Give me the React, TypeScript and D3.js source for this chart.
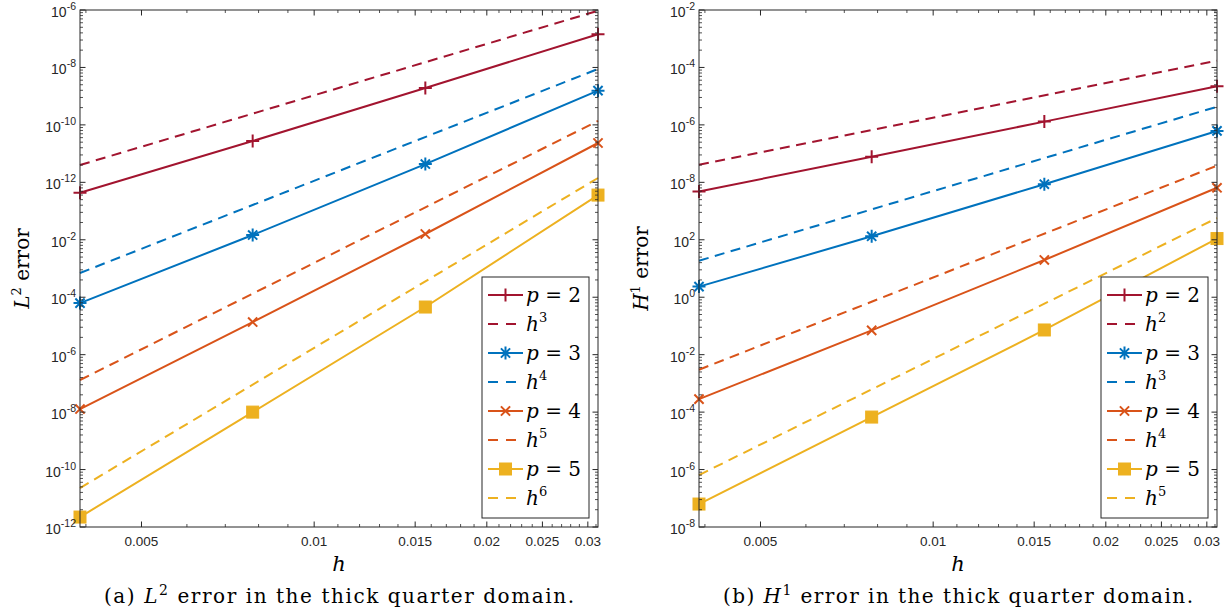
import React from 'react';
import * as d3 from 'd3';

// ---------- data ----------
const hValues = [1 / 256, 1 / 128, 1 / 64, 1 / 32];
const refH = [1 / 256, 1 / 32];

// (a) L2 error
const l2P2 = [6.6e-10, 5.24e-9, 4.39e-8, 3.78e-7];
const l2H3 = [2.0e-9, 9.7e-7];
const l2P3 = [7.9e-12, 1.21e-10, 2.08e-9, 3.94e-8];
const l2H4 = [2.64e-11, 9.4e-8];
const l2P4 = [1.13e-13, 3.7e-12, 1.26e-10, 4.84e-9];
const l2H5 = [3.62e-13, 1.17e-8];
const l2P5 = [1.49e-15, 1.0e-13, 6.75e-12, 6.0e-10];
const l2H6 = [4.77e-15, 1.19e-9];

// (b) H1 error
const h1P2 = [6.92e-6, 2.79e-5, 1.14e-4, 4.71e-4];
const h1H2 = [2.03e-5, 1.31e-3];
const h1P3 = [1.53e-7, 1.15e-6, 9.27e-6, 7.85e-5];
const h1H3 = [4.32e-7, 2.07e-4];
const h1P4 = [1.68e-9, 2.65e-8, 4.45e-7, 8.04e-6];
const h1H4 = [5.47e-9, 1.95e-5];
const h1P5 = [2.51e-11, 8.2e-10, 2.69e-8, 1.05e-6];
const h1H5 = [8.02e-11, 2.39e-6];

const l2YDomain: [number, number] = [1e-15, 1e-6];
const h1YDomain: [number, number] = [1e-11, 1e-2];
// tick labels as printed (top to bottom)
const l2TickExps = ['-6', '-8', '-10', '-12', '-2', '-4', '-6', '-8', '-10', '-12'];
const h1TickExps = ['-2', '-4', '-6', '-8', '2', '0', '-2', '-4', '-6', '-8'];

const xDomain: [number, number] = [1 / 256, 1 / 32];
const xTickValues = [0.005, 0.01, 0.015, 0.02, 0.025, 0.03];
const xTickLabels = ['0.005', '0.01', '0.015', '0.02', '0.025', '0.03'];

const seriesColors = ['#A2142F', '#0072BD', '#D95319', '#EDB120'];
const markerKinds = ['plus', 'star', 'cross', 'square'];
const pLabels = ['2', '3', '4', '5'];
const l2RefExps = ['3', '4', '5', '6'];
const h1RefExps = ['2', '3', '4', '5'];

// ---------- layout ----------
const W = 1231;
const H = 611;
const plotTop = 10;
const plotBottom = 527;
const plotWidth = 518;
const AX = '#262626';
const SERIF = 'DejaVu Serif, serif';
const SANS = 'Liberation Sans, Arial, sans-serif';

function Marker({ kind, x, y, color }: { kind: string; x: number; y: number; color: string }) {
  if (kind === 'square') {
    return <rect x={x - 6} y={y - 6} width={12} height={12} fill={color} stroke={color} strokeWidth={1} />;
  }
  let d = '';
  const a = 6.5;
  const b = 4.6;
  if (kind === 'plus') d = `M${x - a},${y}H${x + a}M${x},${y - a}V${y + a}`;
  if (kind === 'cross') d = `M${x - b},${y - b}L${x + b},${y + b}M${x - b},${y + b}L${x + b},${y - b}`;
  if (kind === 'star')
    d = `M${x - a},${y}H${x + a}M${x},${y - a}V${y + a}M${x - b},${y - b}L${x + b},${y + b}M${x - b},${y + b}L${x + b},${y - b}`;
  return <path d={d} stroke={color} strokeWidth={2} fill="none" />;
}

type PanelProps = {
  left: number;
  yDomain: [number, number];
  tickExps: string[];
  solids: number[][];
  refs: number[][];
  refExps: string[];
  yLetter: string;
  ySup: string;
  captionTag: string;
};

function Panel({ left, yDomain, tickExps, solids, refs, refExps, yLetter, ySup, captionTag }: PanelProps) {
  const right = left + plotWidth;
  const x = d3.scaleLog().domain(xDomain).range([left, right]);
  const y = d3.scaleLog().domain(yDomain).range([plotBottom, plotTop]);
  const line = d3
    .line<[number, number]>()
    .x((d) => x(d[0]))
    .y((d) => y(d[1]));

  const lo = Math.round(Math.log10(yDomain[0]));
  const hi = Math.round(Math.log10(yDomain[1]));
  const majorY = d3.range(hi, lo - 1, -1).map((e) => Math.pow(10, e));
  const minorY: number[] = [];
  for (let e = lo; e < hi; e++) for (let m = 2; m <= 9; m++) minorY.push(m * Math.pow(10, e));
  const minorX = d3
    .range(4, 32)
    .map((i) => i / 1000)
    .filter((v) => !xTickValues.some((t) => Math.abs(t - v) < 1e-9));

  const majLen = 5.5;
  const minLen = 3;
  const cx = (left + right) / 2;

  const legLeft = right - 116;
  const legTop = plotBottom - 250;
  const legRowY = (i: number) => legTop + 18 + i * 29;

  return (
    <g>
      {/* series */}
      {refs.map((r, i) => (
        <path
          key={'r' + i}
          d={line(refH.map((h, j) => [h, r[j]] as [number, number])) || ''}
          stroke={seriesColors[i]}
          strokeWidth={2}
          strokeDasharray="10,6.5"
          fill="none"
        />
      ))}
      {solids.map((s, i) => (
        <g key={'s' + i}>
          <path
            d={line(hValues.map((h, j) => [h, s[j]] as [number, number])) || ''}
            stroke={seriesColors[i]}
            strokeWidth={2}
            fill="none"
          />
          {hValues.map((h, j) => (
            <Marker key={j} kind={markerKinds[i]} x={x(h)} y={y(s[j])} color={seriesColors[i]} />
          ))}
        </g>
      ))}

      {/* axes box */}
      <rect x={left} y={plotTop} width={plotWidth} height={plotBottom - plotTop} fill="none" stroke={AX} strokeWidth={1} />
      {xTickValues.map((v) => (
        <g key={'xt' + v}>
          <line x1={x(v)} x2={x(v)} y1={plotBottom} y2={plotBottom - majLen} stroke={AX} />
          <line x1={x(v)} x2={x(v)} y1={plotTop} y2={plotTop + majLen} stroke={AX} />
        </g>
      ))}
      {minorX.map((v) => (
        <g key={'xm' + v}>
          <line x1={x(v)} x2={x(v)} y1={plotBottom} y2={plotBottom - minLen} stroke={AX} strokeWidth={0.8} />
          <line x1={x(v)} x2={x(v)} y1={plotTop} y2={plotTop + minLen} stroke={AX} strokeWidth={0.8} />
        </g>
      ))}
      {majorY.map((v) => (
        <g key={'yt' + v}>
          <line x1={left} x2={left + majLen} y1={y(v)} y2={y(v)} stroke={AX} />
          <line x1={right} x2={right - majLen} y1={y(v)} y2={y(v)} stroke={AX} />
        </g>
      ))}
      {minorY.map((v) => (
        <g key={'ym' + v}>
          <line x1={left} x2={left + minLen} y1={y(v)} y2={y(v)} stroke={AX} strokeWidth={0.8} />
          <line x1={right} x2={right - minLen} y1={y(v)} y2={y(v)} stroke={AX} strokeWidth={0.8} />
        </g>
      ))}

      {/* tick labels */}
      {xTickValues.map((v, i) => (
        <text key={'xl' + v} x={x(v)} y={plotBottom + 19} textAnchor="middle" fontFamily={SANS} fontSize={13.5} fill={AX}>
          {xTickLabels[i]}
        </text>
      ))}
      {majorY.map((v, i) => (
        <text key={'yl' + v} x={left - 4} y={y(v) + 7} textAnchor="end" fontFamily={SANS} fontSize={14} fill={AX}>
          10
          <tspan fontSize={10.5} dy={-7}>
            {tickExps[i]}
          </tspan>
        </text>
      ))}

      {/* axis titles */}
      <text x={cx} y={plotBottom + 44} textAnchor="middle" fontFamily={SERIF} fontStyle="italic" fontSize={21} fill="#000">
        h
      </text>
      <text
        transform={`translate(${left - 51},${(plotTop + plotBottom) / 2}) rotate(-90)`}
        textAnchor="middle"
        fontFamily={SERIF}
        fontSize={20}
        fill="#000"
      >
        <tspan fontStyle="italic">{yLetter}</tspan>
        <tspan fontSize={13} dy={-8}>
          {ySup}
        </tspan>
        <tspan dy={8}> error</tspan>
      </text>

      {/* caption */}
      <text
        x={cx}
        y={603}
        textAnchor="middle"
        fontFamily={SERIF}
        fontSize={20}
        fill="#000"
        textLength={470}
        lengthAdjust="spacing"
      >
        {`(${captionTag}) `}
        <tspan fontStyle="italic">{yLetter}</tspan>
        <tspan fontSize={14} dy={-8}>
          {ySup}
        </tspan>
        <tspan dy={8}> error in the thick quarter domain.</tspan>
      </text>

      {/* legend */}
      <rect x={legLeft} y={legTop} width={107} height={241} fill="#fff" stroke={AX} strokeWidth={1} />
      {pLabels.map((p, i) => {
        const ys = legRowY(2 * i);
        const yd = legRowY(2 * i + 1);
        const x0 = legLeft + 6;
        const x1 = legLeft + 41;
        return (
          <g key={'lg' + i}>
            <line x1={x0} x2={x1} y1={ys} y2={ys} stroke={seriesColors[i]} strokeWidth={2} />
            <Marker kind={markerKinds[i]} x={(x0 + x1) / 2} y={ys} color={seriesColors[i]} />
            <text x={x1 + 3} y={ys + 7} fontFamily={SERIF} fontSize={20} fill="#000">
              <tspan fontStyle="italic">p</tspan> = {p}
            </text>
            <line x1={x0} x2={x1} y1={yd} y2={yd} stroke={seriesColors[i]} strokeWidth={2} strokeDasharray="10,8" />
            <text x={x1 + 3} y={yd + 7} fontFamily={SERIF} fontSize={20} fill="#000">
              <tspan fontStyle="italic">h</tspan>
              <tspan fontSize={13} dy={-9}>
                {refExps[i]}
              </tspan>
            </text>
          </g>
        );
      })}
    </g>
  );
}

export default function App() {
  return (
    <svg
      width={W}
      height={H}
      viewBox={`0 0 ${W} ${H}`}
      style={{ position: 'absolute', left: 0, top: 0, background: '#fff' }}
    >
      <rect width={W} height={H} fill="#fff" />
      <Panel
        left={80}
        yDomain={l2YDomain}
        tickExps={l2TickExps}
        solids={[l2P2, l2P3, l2P4, l2P5]}
        refs={[l2H3, l2H4, l2H5, l2H6]}
        refExps={l2RefExps}
        yLetter="L"
        ySup="2"
        captionTag="a"
      />
      <Panel
        left={699}
        yDomain={h1YDomain}
        tickExps={h1TickExps}
        solids={[h1P2, h1P3, h1P4, h1P5]}
        refs={[h1H2, h1H3, h1H4, h1H5]}
        refExps={h1RefExps}
        yLetter="H"
        ySup="1"
        captionTag="b"
      />
    </svg>
  );
}
